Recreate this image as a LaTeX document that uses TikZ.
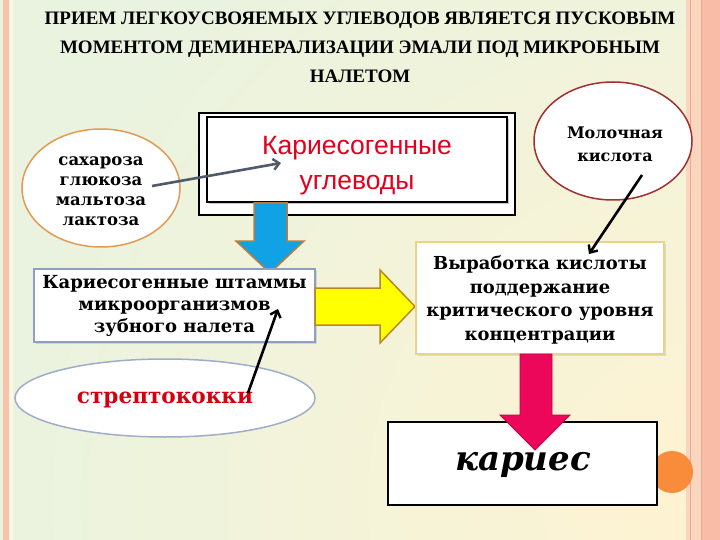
\documentclass[tikz,border=0pt]{standalone}
\usepackage{fontspec}
\setmainfont{Liberation Serif}
\newfontfamily\djs{DejaVu Serif}
\newfontfamily\las{Liberation Sans}
\usetikzlibrary{shapes.geometric,arrows.meta,shadows}
\definecolor{bggreen}{HTML}{EAF3DF}
\definecolor{bgcream}{HTML}{FEF3D2}
\definecolor{stripeA}{HTML}{F9C3AA}
\definecolor{stripeB}{HTML}{FFF9E3}
\definecolor{stripeC}{HTML}{FAD6C0}
\definecolor{stripeD}{HTML}{F9BDA7}
\definecolor{stripeL}{HTML}{EBAA8C}
\definecolor{carbred}{HTML}{E2001E}
\definecolor{orangeline}{HTML}{E39A55}
\definecolor{brownred}{HTML}{A03030}
\definecolor{bluegray}{HTML}{8E9FC2}
\definecolor{goldline}{HTML}{E9D58A}
\definecolor{arrowblue}{HTML}{10A2E4}
\definecolor{arrowblueline}{HTML}{C07A3A}
\definecolor{arrowyellow}{HTML}{FFFF00}
\definecolor{arrowyellowline}{HTML}{B88A1E}
\definecolor{magentaA}{HTML}{EC075A}
\definecolor{magentaB}{HTML}{C80048}
\definecolor{graydark}{HTML}{505A6A}
\definecolor{dotorange}{HTML}{F88C3A}
\definecolor{strepred}{HTML}{D40010}
\tikzset{
  ovalnode/.style={ellipse, fill=white, line width=1.5pt, inner sep=0pt},
  boxnode/.style={rectangle, fill=white, inner sep=0pt},
  linkarrow/.style={line width=2.6pt, -{Straight Barb[length=6pt,width=11pt,line width=2.4pt]}},
}
\begin{document}
\begin{tikzpicture}[x=1pt,y=-1pt]
\useasboundingbox (0,0) rectangle (720,540);
% background
\begin{scope}
\clip (0,0) rectangle (720,540);
\fill[bggreen] (0,0) rectangle (720,540);
\shade[inner color=bgcream, outer color=bggreen] (700,500) circle (700);
\end{scope}
% stripes
\fill[stripeA] (3,0) rectangle (9,540);
\fill[stripeB] (9,0) rectangle (13,540);
\fill[stripeC] (686,0) rectangle (720,540);
\fill[stripeD] (701,0) rectangle (720,540);
\draw[stripeL, line width=0.8pt] (690,0) -- (690,540);
\draw[stripeL, line width=1pt] (701,0) -- (701,540);

% title
\node[font=\bfseries\fontsize{19}{29}\selectfont, align=center] (title) at (360,47)
  {ПРИЕМ ЛЕГКОУСВОЯЕМЫХ УГЛЕВОДОВ ЯВЛЯЕТСЯ ПУСКОВЫМ\\МОМЕНТОМ ДЕМИНЕРАЛИЗАЦИИ ЭМАЛИ ПОД МИКРОБНЫМ\\НАЛЕТОМ};

% sugars ellipse
\node[ovalnode, draw=orangeline, minimum width=158, minimum height=118] (sugars) at (101,188) {};
\node[font=\djs\bfseries\fontsize{16.5}{20}\selectfont, align=center] (sugartext) at (101,191)
  {сахароза\\глюкоза\\мальтоза\\лактоза};

% carbohydrate box
\node[boxnode, draw=black, line width=1.2pt, minimum width=316, minimum height=102] (carbouter) at (357,164) {};
\node[boxnode, draw=black, line width=2pt, minimum width=300, minimum height=85,
      drop shadow={shadow xshift=2pt, shadow yshift=-2pt, opacity=0.45}] (carbinner) at (357,160) {};
\node[font=\las\fontsize{26.5}{35}\selectfont, text=carbred, align=center] (carbtext) at (357,166)
  {Кариесогенные\\углеводы};

% blue arrow
\draw[fill=arrowblue, draw=arrowblueline, line width=1.5pt, line join=miter]
  (254,203) -- (287,203) -- (287,241) -- (304,241) -- (270,273) -- (236,241) -- (254,241) -- cycle;

% strains box
\node[boxnode, draw=bluegray, line width=1.5pt, minimum width=281, minimum height=73,
      drop shadow={shadow xshift=1.5pt, shadow yshift=-1.5pt, opacity=0.25}] (strains) at (174.5,305.5) {};
\node[font=\djs\bfseries\fontsize{18}{22}\selectfont, align=center] (strainstext) at (174.5,306)
  {Кариесогенные штаммы\\микроорганизмов\\зубного налета};

% yellow arrow
\draw[fill=arrowyellow, draw=arrowyellowline, line width=1.5pt, line join=miter]
  (315,288) -- (380,288) -- (380,270) -- (415,306.5) -- (380,343) -- (380,325) -- (315,325) -- cycle;

% acid box
\node[boxnode, draw=goldline, line width=1.8pt, minimum width=248, minimum height=112,
      drop shadow={shadow xshift=1.5pt, shadow yshift=-1.5pt, opacity=0.2}] (acid) at (540,298) {};
\node[font=\djs\bfseries\fontsize{17.9}{23.7}\selectfont, align=center] (acidtext) at (540,300)
  {Выработка кислоты\\поддержание\\критического уровня\\концентрации};

% lactic acid ellipse
\node[ovalnode, draw=brownred, minimum width=158, minimum height=118] (lactic) at (613,141) {};
\node[font=\djs\bfseries\fontsize{16}{23}\selectfont, align=center] (lactictext) at (615,144)
  {Молочная\\кислота};

% orange dot and caries box
\fill[dotorange] (672,472) circle (21);
\node[boxnode, draw=black, line width=2pt, minimum width=269, minimum height=83] (caries) at (522.5,463.5) {};
\node[font=\djs\bfseries\itshape\fontsize{34}{40}\selectfont] (cariestext) at (523,465) {кариес};

% magenta arrow
\draw[fill=magentaA, draw=magentaB, line width=0.8pt, line join=miter]
  (520,354) -- (552,354) -- (552,415) -- (570,415) -- (535,450) -- (500,415) -- (520,415) -- cycle;

% streptococci ellipse
\node[ovalnode, draw=bluegray!85, minimum width=300, minimum height=78] (strep) at (165,398) {};
\node[font=\djs\bfseries\fontsize{21.6}{24}\selectfont, text=strepred] (streptext) at (165,400) {стрептококки};

% link arrows
\coordinate (sugarsOut) at (152,186);
\coordinate (carbIn) at (281,163);
\draw[linkarrow, graydark] (sugarsOut) -- (carbIn);
\coordinate (lacticOut) at (642,175);
\coordinate (acidIn) at (589,254);
\draw[linkarrow, black] (lacticOut) -- (acidIn);
\coordinate (strepOut) at (248,393);
\coordinate (strainsIn) at (278,309);
\draw[linkarrow, black] (strepOut) -- (strainsIn);
\end{tikzpicture}
\end{document}
